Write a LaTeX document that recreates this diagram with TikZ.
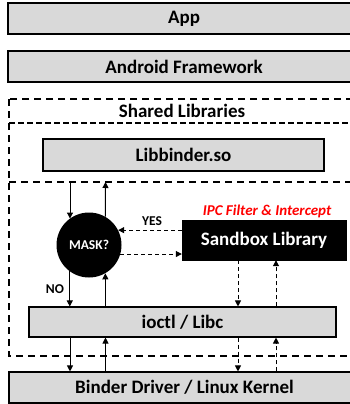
\documentclass[tikz,border=0pt]{standalone}
\usepackage{fontspec}
\setmainfont{Carlito}
\usetikzlibrary{arrows.meta}
\definecolor{boxgray}{RGB}{217,217,217}

\begin{document}
\begin{tikzpicture}[x=1pt, y=-1pt, >={Triangle[length=6pt,width=6pt]},
    layer/.style={draw, fill=boxgray, line width=1.1pt, minimum height=31pt, inner sep=0pt, font=\fontsize{19}{19}\selectfont\bfseries},
    region/.style={line width=1.5pt, dash pattern=on 7pt off 5pt},
    heading/.style={inner sep=0pt, font=\fontsize{19}{19}\selectfont\bfseries},
    small/.style={inner sep=0pt, font=\fontsize{13.5}{14}\selectfont\bfseries},
    call/.style={->, line width=1pt},
    hook/.style={->, line width=1pt, dash pattern=on 4pt off 3pt}]
    \useasboundingbox (0,0) rectangle (350,404);

    \node[layer, minimum width=352pt] (app) at (184,18.5) {App};
    \node[layer, minimum width=352pt] (framework) at (184,66.5) {Android Framework};

    \draw[region] (9,99) rectangle (362,356);
    \draw[region, dash pattern=on 6pt off 3pt] (9,123) -- (362,123);
    \draw[region] (9,182) -- (362,182);
    \node[heading] (shared) at (182,111) {Shared Libraries};

    \node[layer, minimum width=281pt, minimum height=32pt] (libbinder) at (183.5,155) {Libbinder.so};
    \coordinate (lbdown) at (70,182);
    \coordinate (lbup) at (105.5,182);

    \node[circle, fill=black, minimum size=65pt, inner sep=0pt, text=white, small] (mask) at (89,245) {MASK?};
    \node[draw, fill=black, minimum width=164pt, minimum height=40pt, inner sep=0pt, text=white, heading] (sandbox) at (264,240) {Sandbox Library};
    \node[inner sep=0pt, text=red, font=\fontsize{15}{15}\selectfont\bfseries\itshape] (ipc) at (267,211) {IPC Filter \& Intercept};

    \node[layer, minimum width=307pt, minimum height=30pt] (ioctl) at (182.5,322) {ioctl / Libc};
    \node[layer, minimum width=351pt] (binder) at (184.5,387.5) {Binder Driver / Linux Kernel};

    \draw[call] (lbdown) -- (lbdown |- mask.126);
    \draw[call] (mask.60) -- (lbup);
    \draw[hook] (sandbox.west |- mask.27) -- (mask.27);
    \draw[hook] (mask.-16) -- (sandbox.west |- mask.-16);
    \node[small] (yes) at (152,221) {YES};

    \draw[call] (mask.-126) -- (mask.-126 |- ioctl.north);
    \draw[call] (mask.-60 |- ioctl.north) -- (mask.-60);
    \node[small] (no) at (55,289) {NO};
    \draw[hook] ([xshift=-26pt]sandbox.south) -- ([xshift=-26pt]sandbox.south |- ioctl.north);
    \draw[hook] ([xshift=12pt]sandbox.south |- ioctl.north) -- ([xshift=12pt]sandbox.south);

    \draw[call] (lbdown |- ioctl.south) -- (lbdown |- binder.north);
    \draw[call] (lbup |- binder.north) -- (lbup |- ioctl.south);
    \draw[hook] ([xshift=-26pt]sandbox.south |- ioctl.south) -- ([xshift=-26pt]sandbox.south |- binder.north);
    \draw[hook] ([xshift=12pt]sandbox.south |- binder.north) -- ([xshift=12pt]sandbox.south |- ioctl.south);
\end{tikzpicture}
\end{document}
